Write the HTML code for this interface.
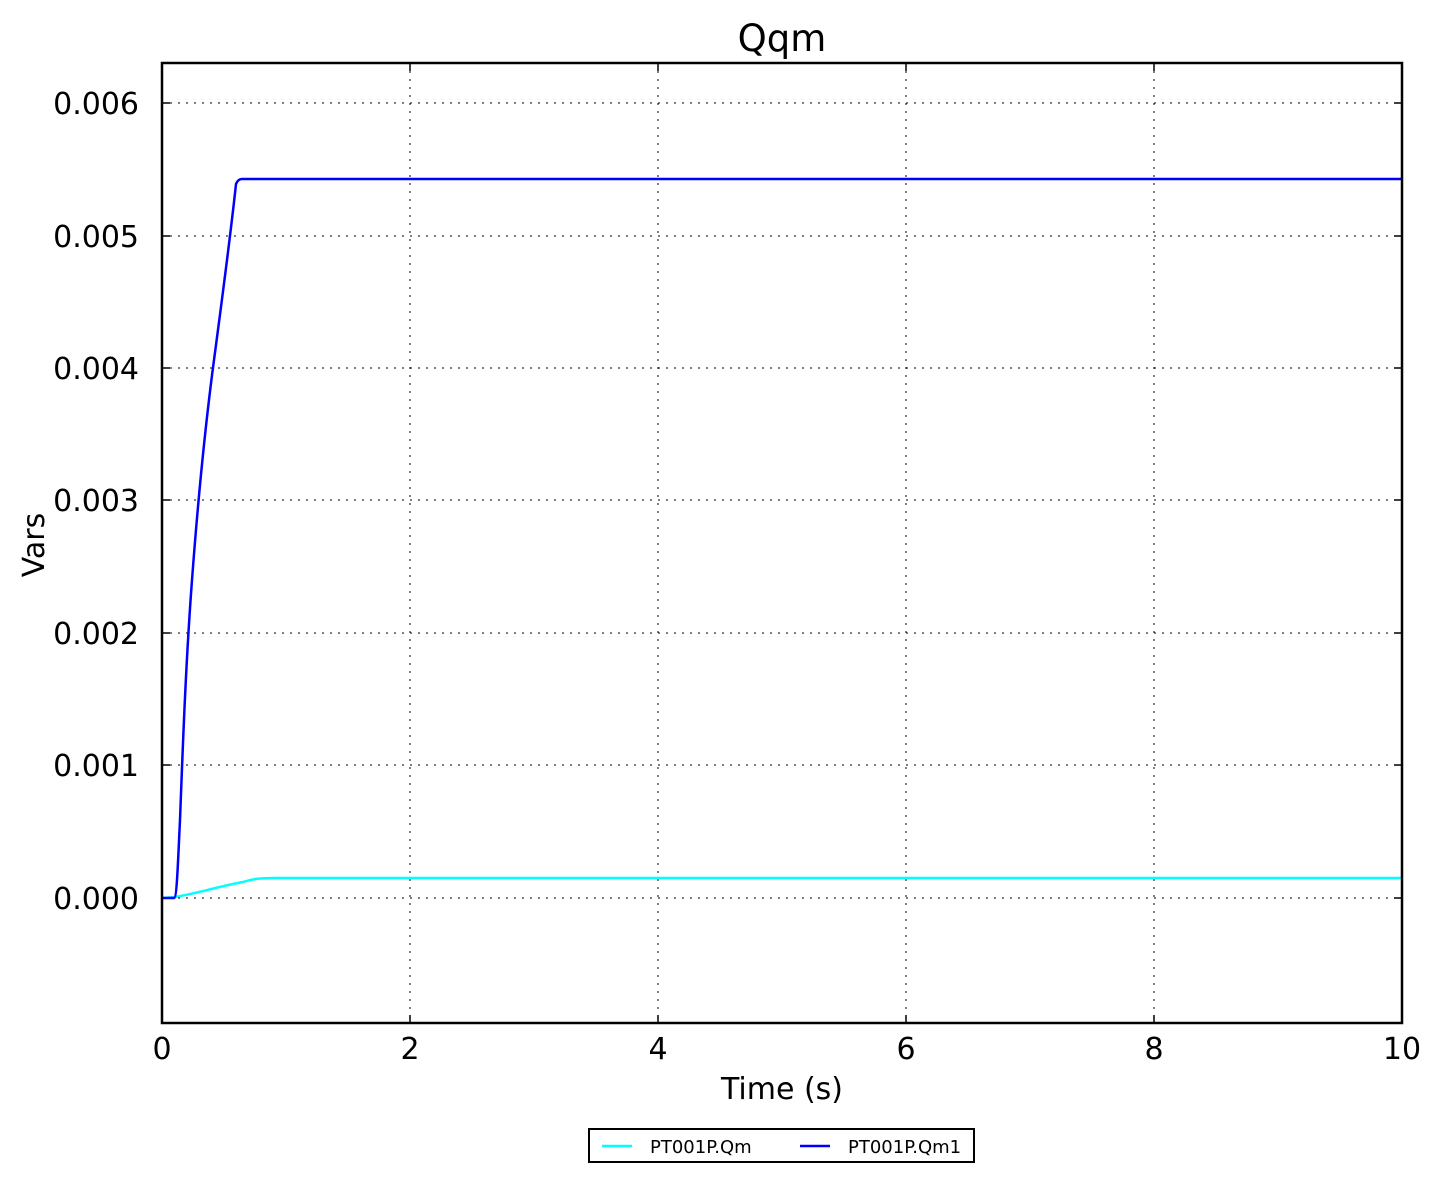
<!DOCTYPE html>
<html><head><style>body{margin:0;background:#fff}</style></head><body>
<svg width="1439" height="1182" xmlns="http://www.w3.org/2000/svg" font-family="DejaVu Sans, Liberation Sans, sans-serif">
<rect width="1439" height="1182" fill="#fff"/>
<g stroke="#000" stroke-width="1" stroke-dasharray="2,6">
<line x1="410" y1="63" x2="410" y2="1023"/><line x1="658" y1="63" x2="658" y2="1023"/><line x1="906" y1="63" x2="906" y2="1023"/><line x1="1154" y1="63" x2="1154" y2="1023"/>
<line x1="162" y1="103" x2="1402" y2="103"/><line x1="162" y1="236" x2="1402" y2="236"/><line x1="162" y1="368" x2="1402" y2="368"/><line x1="162" y1="500" x2="1402" y2="500"/><line x1="162" y1="633" x2="1402" y2="633"/><line x1="162" y1="765" x2="1402" y2="765"/><line x1="162" y1="898" x2="1402" y2="898"/>
</g>
<g stroke="#000" stroke-width="1.5">
<path d="M410 1023v-8M658 1023v-8M906 1023v-8M1154 1023v-8M410 63v8M658 63v8M906 63v8M1154 63v8"/>
<path d="M162 103h8M162 236h8M162 368h8M162 500h8M162 633h8M162 765h8M162 898h8M1402 103h-8M1402 236h-8M1402 368h-8M1402 500h-8M1402 633h-8M1402 765h-8M1402 898h-8"/>
</g>
<path d="M162 898 L175 897 C195 894 220 886 243 882 C252 879 260 878 275 878 L1402 878" fill="none" stroke="#00ffff" stroke-width="2.5"/>
<path d="M162 898 L174 898 C177 898 178 860 180 820 C183 740 186 660 192 580 C198 500 206 420 214 360 C222 300 230 240 236 184 Q238 179 242 179 L1402 179" fill="none" stroke="#0000ff" stroke-width="2.5"/>
<rect x="162" y="63" width="1240" height="960" fill="none" stroke="#000" stroke-width="2.5"/>
<g font-size="30" text-anchor="end">
<text x="139" y="114">0.006</text><text x="139" y="247">0.005</text><text x="139" y="379">0.004</text><text x="139" y="511">0.003</text><text x="139" y="644">0.002</text><text x="139" y="776">0.001</text><text x="139" y="909">0.000</text>
</g>
<g font-size="30" text-anchor="middle">
<text x="162" y="1059">0</text><text x="410" y="1059">2</text><text x="658" y="1059">4</text><text x="906" y="1059">6</text><text x="1154" y="1059">8</text><text x="1402" y="1059">10</text>
<text x="782" y="1099">Time (s)</text>
<text x="782" y="51" font-size="37">Qqm</text>
<text transform="translate(44,545) rotate(-90)">Vars</text>
</g>
<rect x="589" y="1129" width="385" height="33" fill="#fff" stroke="#000" stroke-width="2"/>
<line x1="602" y1="1146" x2="632" y2="1146" stroke="#00ffff" stroke-width="2.5"/>
<line x1="800" y1="1146" x2="830" y2="1146" stroke="#0000ff" stroke-width="2.5"/>
<g font-size="18"><text x="650" y="1153">PT001P.Qm</text><text x="848" y="1153">PT001P.Qm1</text></g>
</svg>
</body></html>
